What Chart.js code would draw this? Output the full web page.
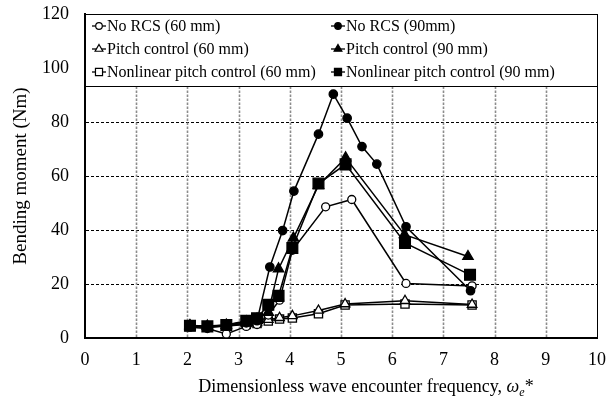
<!DOCTYPE html>
<html>
<head>
<meta charset="utf-8">
<script src="https://cdn.jsdelivr.net/npm/chart.js@4/dist/chart.umd.min.js"></script>
<style>
  html, body { margin: 0; padding: 0; background: #fff; }
  #wrap { width: 608px; height: 407px; position: relative; }
</style>
</head>
<body>
<div id="wrap"><canvas id="bmChart"></canvas></div>
<script>
// Bending moment vs dimensionless encounter frequency
const seriesLabels = [
  'No RCS (60 mm)', 'No RCS (90mm)',
  'Pitch control (60 mm)', 'Pitch control (90 mm)',
  'Nonlinear pitch control (60 mm)', 'Nonlinear pitch control (90 mm)'
];

const noRcs60X = [2.05, 2.39, 2.76, 3.15, 3.36, 3.58, 3.80, 4.05, 4.70, 5.21, 6.27, 7.56];
const noRcs60Y = [4.0, 3.5, 1.5, 4.3, 5.0, 8.5, 14.0, 32.5, 48.6, 51.3, 20.2, 19.3];

const noRcs90X = [2.05, 2.39, 2.76, 3.15, 3.36, 3.61, 3.86, 4.08, 4.56, 4.85, 5.12, 5.41, 5.70, 6.27, 7.53];
const noRcs90Y = [4.4, 3.9, 4.5, 5.6, 6.4, 26.3, 39.8, 54.4, 75.5, 90.3, 81.4, 70.9, 64.4, 41.2, 17.5];

const pitch60X = [2.05, 2.39, 2.76, 3.15, 3.36, 3.58, 3.80, 4.05, 4.56, 5.08, 6.25, 7.56];
const pitch60Y = [4.6, 4.2, 4.6, 5.2, 5.6, 6.8, 7.5, 8.2, 10.2, 12.6, 13.8, 12.4];

const pitch90X = [2.05, 2.39, 2.76, 3.15, 3.36, 3.58, 3.78, 4.07, 4.56, 5.09, 6.24, 7.48];
const pitch90Y = [4.6, 4.4, 4.8, 6.0, 7.0, 9.5, 25.6, 37.0, 56.5, 66.7, 38.3, 30.2];

const nlpc60X = [2.05, 2.39, 2.76, 3.15, 3.36, 3.58, 3.80, 4.05, 4.56, 5.08, 6.25, 7.56];
const nlpc60Y = [4.3, 4.0, 4.4, 5.0, 5.4, 6.3, 7.0, 7.4, 9.0, 12.2, 12.6, 12.2];

const nlpc90X = [2.05, 2.39, 2.76, 3.15, 3.36, 3.58, 3.78, 4.05, 4.56, 5.09, 6.25, 7.52];
const nlpc90Y = [4.5, 4.3, 4.8, 6.4, 7.3, 12.3, 15.6, 33.3, 57.2, 64.3, 35.2, 23.4];

const xTicks = [0, 1, 2, 3, 4, 5, 6, 7, 8, 9, 10];
const yTicks = [0, 20, 40, 60, 80, 100, 120];

const FONT = "'Liberation Serif', 'Times New Roman', serif";
const toPts = (xs, ys) => xs.map((x, i) => ({ x: x, y: ys[i] }));

const mkSet = (label, xs, ys, style, filled, radius, order) => ({
  label: label,
  data: toPts(xs, ys),
  order: order,
  showLine: true,
  borderColor: '#000',
  borderWidth: 1.5,
  pointStyle: style,
  pointRadius: radius,
  pointHoverRadius: radius,
  pointBorderColor: '#000',
  pointBorderWidth: 1.3,
  pointBackgroundColor: filled ? '#000' : '#fff',
  _legendRadius: style === 'rect' ? 5 : (style === 'triangle' ? 4.5 : 3.3)
});

const datasets = [
  mkSet(seriesLabels[0], noRcs60X, noRcs60Y, 'circle', false, 4, 3),
  mkSet(seriesLabels[1], noRcs90X, noRcs90Y, 'circle', true, 4.2, 1),
  mkSet(seriesLabels[2], pitch60X, pitch60Y, 'triangle', false, 5.5, 4),
  mkSet(seriesLabels[3], pitch90X, pitch90Y, 'triangle', true, 6, 2),
  mkSet(seriesLabels[4], nlpc60X, nlpc60Y, 'rect', false, 5.8, 5),
  mkSet(seriesLabels[5], nlpc90X, nlpc90Y, 'rect', true, 7.6, 0)
];

// vertical grey grid, right frame, legend box inside the plot, x title with subscript
const decor = {
  id: 'decor',
  beforeDatasetsDraw(chart) {
    const { ctx, chartArea: a, scales } = chart;
    ctx.save();
    ctx.strokeStyle = '#8c8c8c';
    ctx.lineWidth = 1.6;
    ctx.setLineDash([2.5, 1.5]);
    xTicks.slice(1, -1).forEach(v => {
      const px = Math.round(scales.x.getPixelForValue(v)) + 0.5;
      ctx.beginPath();
      ctx.moveTo(px, a.bottom - 1);
      ctx.lineTo(px, a.top);
      ctx.stroke();
    });
    ctx.setLineDash([]);
    ctx.strokeStyle = '#000';
    ctx.lineWidth = 1;
    ctx.beginPath();
    ctx.moveTo(Math.round(a.right) + 0.5, a.top);
    ctx.lineTo(Math.round(a.right) + 0.5, a.bottom);
    ctx.stroke();
    ctx.restore();
  },
  afterDatasetsDraw(chart) {
    const { ctx, chartArea: a } = chart;
    ctx.save();

    // legend box
    const boxH = 72;
    const L = Math.round(a.left), R = Math.round(a.right), T = Math.round(a.top);
    ctx.fillStyle = '#fff';
    ctx.fillRect(L, T, R - L, boxH);
    ctx.strokeStyle = '#000';
    ctx.lineWidth = 1;
    ctx.strokeRect(L + 0.5, T + 0.5, R - L, boxH);

    const cols = [L + 7, L + 246];
    const rows = [T + 12, T + 35, T + 58];
    ctx.font = '16px ' + FONT;
    ctx.textBaseline = 'middle';
    ctx.textAlign = 'left';
    chart.data.datasets.forEach((ds, i) => {
      const x = cols[i % 2];
      const y = rows[Math.floor(i / 2)];
      ctx.strokeStyle = '#000';
      ctx.lineWidth = 1.3;
      ctx.beginPath();
      ctx.moveTo(x, y);
      ctx.lineTo(x + 14, y);
      ctx.stroke();
      ctx.fillStyle = ds.pointBackgroundColor;
      ctx.lineWidth = 1.2;
      Chart.helpers.drawPoint(ctx, {
        pointStyle: ds.pointStyle, rotation: 0, borderWidth: 1.2, radius: ds._legendRadius
      }, x + 7, y);
      ctx.fillStyle = '#000';
      ctx.fillText(ds.label, x + 15, y + 1);
    });

    // x axis title
    const base = 392;
    const cx = 366;
    const p1 = 'Dimensionless wave encounter frequency, ';
    ctx.font = '18px ' + FONT;
    const w1 = ctx.measureText(p1).width;
    ctx.font = 'italic 18px ' + FONT;
    const w2 = ctx.measureText('\u03c9').width;
    ctx.font = 'italic 12px ' + FONT;
    const w3 = ctx.measureText('e').width;
    ctx.font = '18px ' + FONT;
    const w4 = ctx.measureText('*').width;
    let sx = cx - (w1 + w2 + w3 + w4) / 2;
    ctx.fillStyle = '#000';
    ctx.textBaseline = 'alphabetic';
    ctx.fillText(p1, sx, base); sx += w1;
    ctx.font = 'italic 18px ' + FONT;
    ctx.fillText('\u03c9', sx, base); sx += w2;
    ctx.font = 'italic 12px ' + FONT;
    ctx.fillText('e', sx, base + 4); sx += w3;
    ctx.font = '18px ' + FONT;
    ctx.fillText('*', sx, base);
    ctx.restore();
  }
};

const ctx = document.getElementById('bmChart').getContext('2d');
new Chart(ctx, {
  type: 'scatter',
  data: { datasets: datasets },
  options: {
    responsive: true,
    maintainAspectRatio: false,
    animation: false,
    events: [],
    layout: { autoPadding: false, padding: { top: 14, right: 11, left: 0, bottom: 0 } },
    plugins: { legend: { display: false }, tooltip: { enabled: false } },
    scales: {
      x: {
        type: 'linear',
        min: 0, max: 10,
        afterBuildTicks: (s) => { s.ticks = xTicks.map(v => ({ value: v })); },
        afterFit: (s) => { s.height = 69; s.paddingLeft = 0; s.paddingRight = 0; },
        ticks: { color: '#000', font: { family: FONT, size: 18 }, padding: 3, maxRotation: 0 },
        grid: { display: false },
        border: { display: true, color: '#000', width: 2 }
      },
      y: {
        type: 'linear',
        min: 0, max: 120,
        afterBuildTicks: (s) => { s.ticks = yTicks.map(v => ({ value: v })); },
        afterFit: (s) => { s.width = 85; s.paddingTop = 0; s.paddingBottom = 0; },
        ticks: { color: '#000', font: { family: FONT, size: 18 }, padding: 16 },
        grid: { color: '#000', lineWidth: 1, drawTicks: false },
        border: { display: true, color: '#000', width: 2, dash: [3, 2] },
        title: {
          display: true, text: 'Bending moment (Nm)', color: '#000',
          font: { family: FONT, size: 19 }, padding: { top: 10, bottom: 0 }
        }
      }
    }
  },
  plugins: [decor]
});
</script>
</body>
</html>
